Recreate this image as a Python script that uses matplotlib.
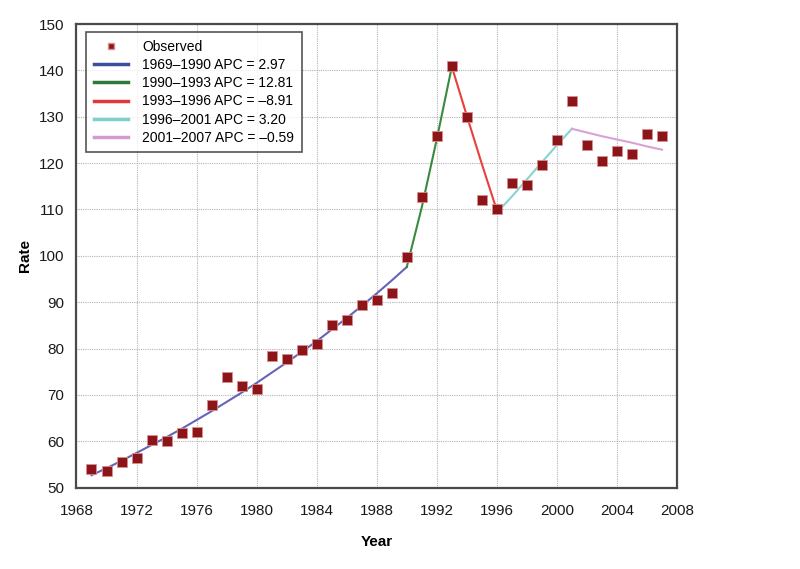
import matplotlib
matplotlib.use("Agg")
import matplotlib.pyplot as plt
from matplotlib.lines import Line2D

plt.rcParams["font.family"] = ["Liberation Sans", "DejaVu Sans"]

# ----- observed rates -----
years = list(range(1969, 2008))
observed = [54.0, 53.6, 55.5, 56.5, 60.3, 60.0, 61.8, 62.1, 67.8, 73.9,
            72.0, 71.3, 78.5, 77.8, 79.6, 80.9, 85.1, 86.1, 89.5, 90.5,
            91.9, 99.7, 112.6, 125.8, 140.9, 130.0, 112.0, 110.1, 115.7, 115.2,
            119.6, 124.9, 133.3, 123.9, 120.4, 122.7, 122.0, 126.2, 125.8]

# ----- joinpoint fitted segments -----
seg1_years = list(range(1969, 1991))
seg1_fit = [52.7, 54.2, 55.8, 57.5, 59.2, 60.9, 62.7, 64.6, 66.5, 68.5, 70.5,
            72.6, 74.8, 77.0, 79.3, 81.6, 84.1, 86.6, 89.2, 91.9, 94.7, 97.6]
seg2_years = [1990, 1991, 1992, 1993]
seg2_fit = [97.6, 110.5, 125.2, 140.8]
seg3_years = [1993, 1994, 1995, 1996]
seg3_fit = [140.8, 130.2, 119.8, 109.8]
seg4_years = [1996, 1997, 1998, 1999, 2000, 2001]
seg4_fit = [109.3, 112.8, 116.5, 120.2, 123.9, 127.4]
seg5_years = [2001, 2002, 2003, 2004, 2005, 2006, 2007]
seg5_fit = [127.4, 126.6, 125.8, 125.1, 124.4, 123.6, 122.9]

seg_labels = ["1969\u20131990 APC = 2.97",
              "1990\u20131993 APC = 12.81",
              "1993\u20131996 APC = \u20138.91",
              "1996\u20132001 APC = 3.20",
              "2001\u20132007 APC = \u20130.59"]
seg_colors = ["#6565b8", "#3a8a3e", "#e8403c", "#86d4d0", "#d9a2d4"]
legend_colors = ["#3a4f9e", "#2e7a3a", "#e23a3a", "#7fd0cc", "#d49ad0"]

fig = plt.figure(figsize=(8.0, 5.69), dpi=100)
ax = fig.add_axes([0.0956, 0.1429, 0.7507, 0.8149])

segments = [(seg1_years, seg1_fit), (seg2_years, seg2_fit), (seg3_years, seg3_fit),
            (seg4_years, seg4_fit), (seg5_years, seg5_fit)]
for (sx, sy), c in zip(segments, seg_colors):
    ax.plot(sx, sy, color=c, linewidth=1.5, zorder=3)

ax.plot(years, observed, linestyle="none", marker="s", markersize=6.6,
        markerfacecolor="#8b1518", markeredgecolor="#d99090",
        markeredgewidth=0.6, zorder=4)

ax.set_xlim(1968, 2008)
ax.set_ylim(50, 150)
ax.set_xticks(range(1968, 2009, 4))
ax.set_yticks(range(50, 151, 10))
ax.grid(True, linestyle=(0, (1, 1)), color="#b4b4b4", linewidth=0.8)
ax.set_axisbelow(True)
ax.tick_params(axis="both", length=0, labelsize=11, colors="#1a1a1a")
ax.tick_params(axis="x", pad=12)
ax.tick_params(axis="y", pad=9)
for s in ax.spines.values():
    s.set_color("#4a4a4a")
    s.set_linewidth(1.6)

ax.set_xlabel("Year", fontsize=11, fontweight="bold", labelpad=12)
ax.set_ylabel("Rate", fontsize=11, fontweight="bold", labelpad=5)

# legend
handles = [Line2D([], [], linestyle="none", marker="s", markersize=5,
                  markerfacecolor="#8b1518", markeredgecolor="#d99090")]
handles += [Line2D([], [], color=c, linewidth=2.5) for c in legend_colors]
leg = ax.legend(handles, ["Observed"] + seg_labels, loc="upper left",
                bbox_to_anchor=(0.016, 0.982), fontsize=10, frameon=True,
                fancybox=False, handlelength=2.5, handletextpad=1.0,
                labelspacing=0.3, borderpad=0.55, borderaxespad=0.0)
leg.get_frame().set_edgecolor("#2a2a2a")
leg.get_frame().set_linewidth(1.2)

fig.savefig("out.png", dpi=100)
